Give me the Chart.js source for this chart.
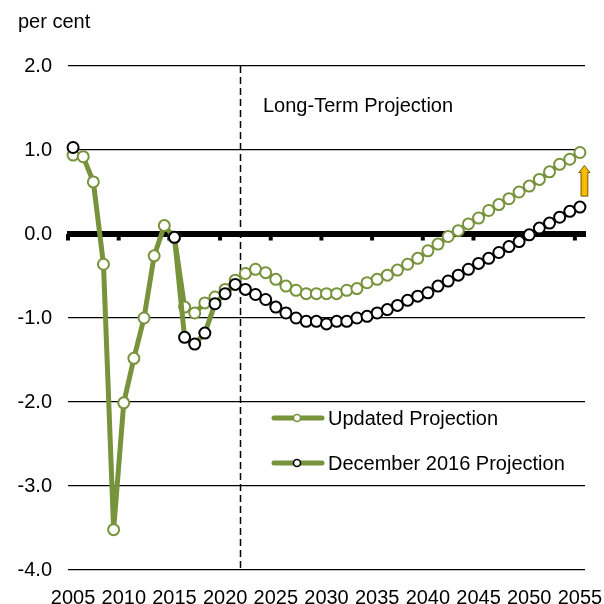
<!DOCTYPE html>
<html>
<head>
<meta charset="utf-8">
<script src="https://cdn.jsdelivr.net/npm/chart.js@4"></script>
<style>
  html, body { margin: 0; padding: 0; background: #fff; }
  #wrap { width: 604px; height: 604px; }
</style>
</head>
<body>
<div id="wrap"><canvas id="chart" width="604" height="604"></canvas></div>
<script>
// Data (per cent)
const years = ["2005","2006","2007","2008","2009","2010","2011","2012","2013","2014",
  "2015","2016","2017","2018","2019","2020","2021","2022","2023","2024",
  "2025","2026","2027","2028","2029","2030","2031","2032","2033","2034",
  "2035","2036","2037","2038","2039","2040","2041","2042","2043","2044",
  "2045","2046","2047","2048","2049","2050","2051","2052","2053","2054","2055"];

const updatedProjection = [0.94, 0.92, 0.62, -0.36, -3.52, -2.01, -1.48, -1.00, -0.26, 0.10,
  -0.04, -0.87, -0.94, -0.82, -0.75, -0.66, -0.55, -0.47, -0.42, -0.46,
  -0.54, -0.62, -0.67, -0.71, -0.71, -0.71, -0.71, -0.67, -0.65, -0.58,
  -0.54, -0.49, -0.43, -0.36, -0.29, -0.20, -0.12, -0.03, 0.04, 0.12,
  0.19, 0.28, 0.35, 0.42, 0.50, 0.57, 0.65, 0.74, 0.83, 0.89, 0.97];

const dec2016Projection = [1.03, null, null, null, null, null, null, null, null, null,
  -0.04, -1.23, -1.31, -1.18, -0.83, -0.71, -0.60, -0.66, -0.72, -0.78,
  -0.87, -0.94, -1.00, -1.04, -1.04, -1.07, -1.04, -1.04, -1.00, -0.98,
  -0.94, -0.90, -0.85, -0.79, -0.74, -0.70, -0.62, -0.56, -0.49, -0.42,
  -0.35, -0.29, -0.22, -0.15, -0.09, -0.01, 0.07, 0.13, 0.20, 0.27, 0.32];

const yTicks = [-4, -3, -2, -1, 0, 1, 2];
const projectionStart = "2022";

const green = "#77933C";
const font = "'Liberation Sans', Arial, sans-serif";
const narrowFont = "'Liberation Sans Narrow', 'Arial Narrow', sans-serif";

// Extra drawing: zero axis, dashed divider, notes, legend, arrow
const overlay = {
    id: "overlay",
    beforeDatasetsDraw(chart) {
        const ctx = chart.ctx;
        const a = chart.chartArea;
        const x = chart.scales.x, y = chart.scales.y;
        const step = x.getPixelForValue(1) - x.getPixelForValue(0);
        const y0 = y.getPixelForValue(0);
        ctx.save();
        ctx.fillStyle = "#000";
        ctx.fillRect(a.left - 1, y0 - 3, a.right - a.left + 2, 6);
        for (let i = 0; i < years.length; i += 5) {
            const px = x.getPixelForValue(i) - step / 2;
            ctx.fillRect(px - 2, y0, 4, 6.5);
        }
        // divider between history and long-term projection
        const k = years.indexOf(projectionStart);
        const dx = Math.round((x.getPixelForValue(k - 1) + x.getPixelForValue(k)) / 2) + 0.5;
        ctx.strokeStyle = "#000";
        ctx.lineWidth = 1.5;
        ctx.setLineDash([7, 4]);
        ctx.beginPath();
        ctx.moveTo(dx, a.top);
        ctx.lineTo(dx, a.bottom);
        ctx.stroke();
        ctx.restore();
    },
    afterDatasetsDraw(chart) {
        const ctx = chart.ctx;
        const x = chart.scales.x, y = chart.scales.y;
        ctx.save();
        ctx.fillStyle = "#000";
        ctx.font = "20px " + font;
        ctx.textBaseline = "alphabetic";
        ctx.textAlign = "left";
        ctx.fillText("per cent", 18, 28);
        ctx.fillText("Long-Term Projection", 263, 112);

        // legend
        const rows = [
            { label: "Updated Projection", border: green, y: 418 },
            { label: "December 2016 Projection", border: "#000", y: 463 }
        ];
        rows.forEach(r => {
            ctx.strokeStyle = green;
            ctx.lineWidth = 5;
            ctx.lineCap = "round";
            ctx.beginPath();
            ctx.moveTo(274, r.y);
            ctx.lineTo(322, r.y);
            ctx.stroke();
            ctx.beginPath();
            ctx.arc(297, r.y, 3.5, 0, Math.PI * 2);
            ctx.fillStyle = "#fff";
            ctx.fill();
            ctx.lineWidth = 1.6;
            ctx.strokeStyle = r.border;
            ctx.stroke();
            ctx.fillStyle = "#000";
            ctx.fillText(r.label, 328, r.y + 7);
        });

        // upward arrow between the two 2055 values
        const last = years.length - 1;
        const ax = x.getPixelForValue(last) + 4.5;
        const top = y.getPixelForValue(updatedProjection[last]) + 13;
        const bot = y.getPixelForValue(dec2016Projection[last]) - 11;
        const sw = 3.4, hw = 5.6, hh = 7;
        const grad = ctx.createLinearGradient(ax - hw, 0, ax + hw, 0);
        grad.addColorStop(0, "#D9A000");
        grad.addColorStop(0.5, "#FFC000");
        grad.addColorStop(1, "#E8AC00");
        ctx.beginPath();
        ctx.moveTo(ax, top);
        ctx.lineTo(ax + hw, top + hh);
        ctx.lineTo(ax + sw, top + hh);
        ctx.lineTo(ax + sw, bot);
        ctx.lineTo(ax - sw, bot);
        ctx.lineTo(ax - sw, top + hh);
        ctx.lineTo(ax - hw, top + hh);
        ctx.closePath();
        ctx.fillStyle = grad;
        ctx.fill();
        ctx.lineWidth = 1;
        ctx.lineCap = "butt";
        ctx.strokeStyle = "#7a5c00";
        ctx.stroke();
        ctx.restore();
    }
};

const ctx = document.getElementById("chart").getContext("2d");
new Chart(ctx, {
    type: "line",
    data: {
        labels: years,
        datasets: [
            {
                label: "December 2016 Projection",
                data: dec2016Projection,
                order: 0,
                borderColor: green,
                borderWidth: 5,
                pointRadius: 5.5,
                pointBorderWidth: 2,
                pointBorderColor: "#000",
                pointBackgroundColor: "#fff",
                spanGaps: false,
                tension: 0
            },
            {
                label: "Updated Projection",
                data: updatedProjection,
                order: 1,
                borderColor: green,
                borderWidth: 5,
                pointRadius: 5.5,
                pointBorderWidth: 2,
                pointBorderColor: green,
                pointBackgroundColor: "#fff",
                tension: 0
            }
        ]
    },
    options: {
        responsive: false,
        animation: false,
        devicePixelRatio: 1,
        layout: { padding: { top: 66, right: 19, bottom: 0, left: 0 } },
        plugins: {
            legend: { display: false },
            tooltip: { enabled: false }
        },
        scales: {
            x: {
                offset: true,
                grid: { display: false },
                border: { display: false },
                afterFit(scale) {
                    scale.height = 34;
                    scale.paddingLeft = 0;
                    scale.paddingRight = 0;
                },
                ticks: {
                    autoSkip: false,
                    maxRotation: 0,
                    padding: 8,
                    color: "#000",
                    font: { family: narrowFont, size: 20 },
                    callback(val, i) { return i % 5 === 0 ? years[i] : ""; }
                }
            },
            y: {
                min: yTicks[0],
                max: yTicks[yTicks.length - 1],
                afterFit(scale) {
                    scale.width = 68;
                    scale.paddingTop = 0;
                    scale.paddingBottom = 0;
                },
                afterBuildTicks(scale) { scale.ticks = yTicks.map(v => ({ value: v })); },
                grid: {
                    color: "#000",
                    lineWidth: c => (c.tick && c.tick.value === 0 ? 0 : 1.3),
                    drawTicks: false
                },
                border: { display: false },
                ticks: {
                    padding: 16,
                    color: "#000",
                    font: { family: font, size: 20 },
                    callback: v => v.toFixed(1)
                }
            }
        }
    },
    plugins: [overlay]
});
</script>
</body>
</html>
